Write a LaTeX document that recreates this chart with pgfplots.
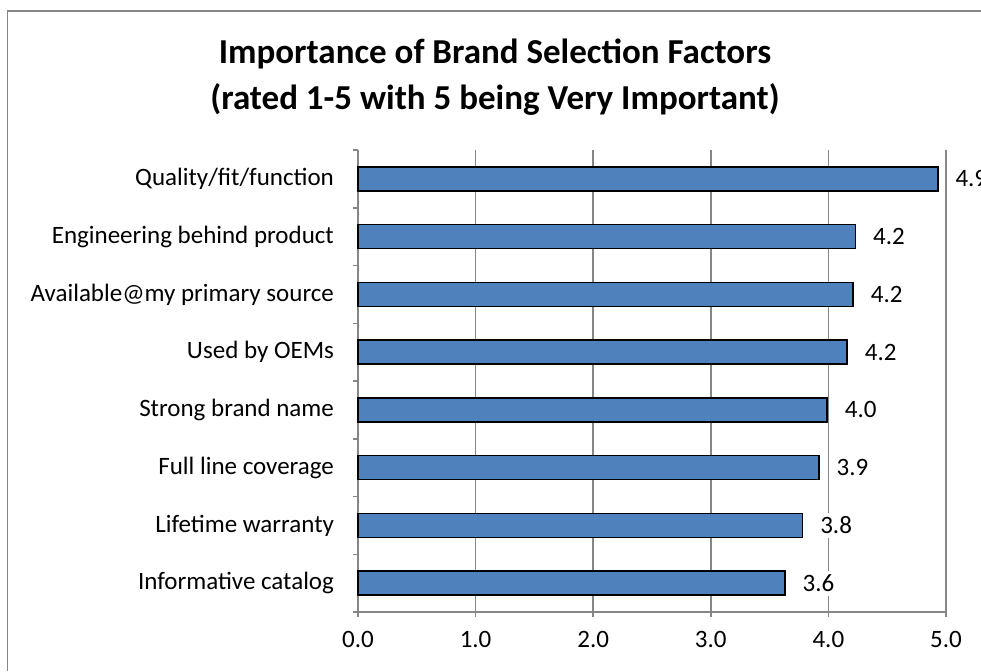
\documentclass[border=0pt]{standalone}
\usepackage{fontspec}
\setmainfont{Carlito}
\usepackage{pgfplots}
\pgfplotsset{compat=1.18}
\definecolor{barblue}{HTML}{4F81BD}
\definecolor{gridgray}{HTML}{868686}
\begin{document}
\begin{tikzpicture}
% page is 981x671 px at 0.5pt per px
\useasboundingbox (0,0) rectangle (490.5pt,335.5pt);
\draw[gridgray, line width=0.75pt] (3.75pt,0) -- (3.75pt,330pt) -- (495pt,330pt);
\node[align=center, font=\bfseries\fontsize{17.5}{23}\selectfont] at (247.5pt,297pt)
  {Importance of Brand Selection Factors\\(rated 1-5 with 5 being Very Important)};
\begin{axis}[
  at={(179pt,29.5pt)}, anchor=south west,
  scale only axis, width=294pt, height=231pt,
  xbar, bar width=12pt,
  xmin=0, xmax=5, ymin=0.5, ymax=8.5,
  /pgf/number format/assume math mode=true,
  xtick={0,1,...,5},
  xticklabel={\pgfmathprintnumber[fixed,fixed zerofill,precision=1]{\tick}},
  ytick={1,...,8},
  yticklabels={Informative catalog, Lifetime warranty, Full line coverage, Strong brand name,
    Used by OEMs, Available@my primary source, Engineering behind product, Quality/fit/function},
  minor ytick={0.5,1.5,...,8.5},
  tick align=outside,
  major tick length=2.5pt, minor tick length=2.5pt,
  ytick style={draw=none},
  minor y tick style={draw=gridgray, line width=0.75pt},
  xtick style={draw=gridgray, line width=0.75pt},
  tick label style={font=\fontsize{12.5}{14}\selectfont},
  yticklabel style={xshift=-6pt},
  xticklabel style={yshift=-3.5pt},
  xmajorgrids, grid style={draw=gridgray, line width=0.75pt},
  axis x line*=bottom, axis y line*=left,
  axis line style={draw=gridgray, line width=0.75pt, -},
  point meta=x,
  nodes near coords={\pgfmathprintnumber[fixed,fixed zerofill,precision=1,assume math mode=true]{\pgfplotspointmeta}},
  every node near coord/.append style={anchor=west, fill=white, inner sep=2pt, xshift=6.5pt,
    font=\fontsize{12.5}{14}\selectfont, text=black},
  clip=false,
]
\addplot[fill=barblue, draw=black, line width=0.75pt] coordinates {
  (3.63,1) (3.78,2) (3.92,3) (3.99,4) (4.16,5) (4.21,6) (4.23,7) (4.93,8)};
\end{axis}
\end{tikzpicture}
\end{document}
